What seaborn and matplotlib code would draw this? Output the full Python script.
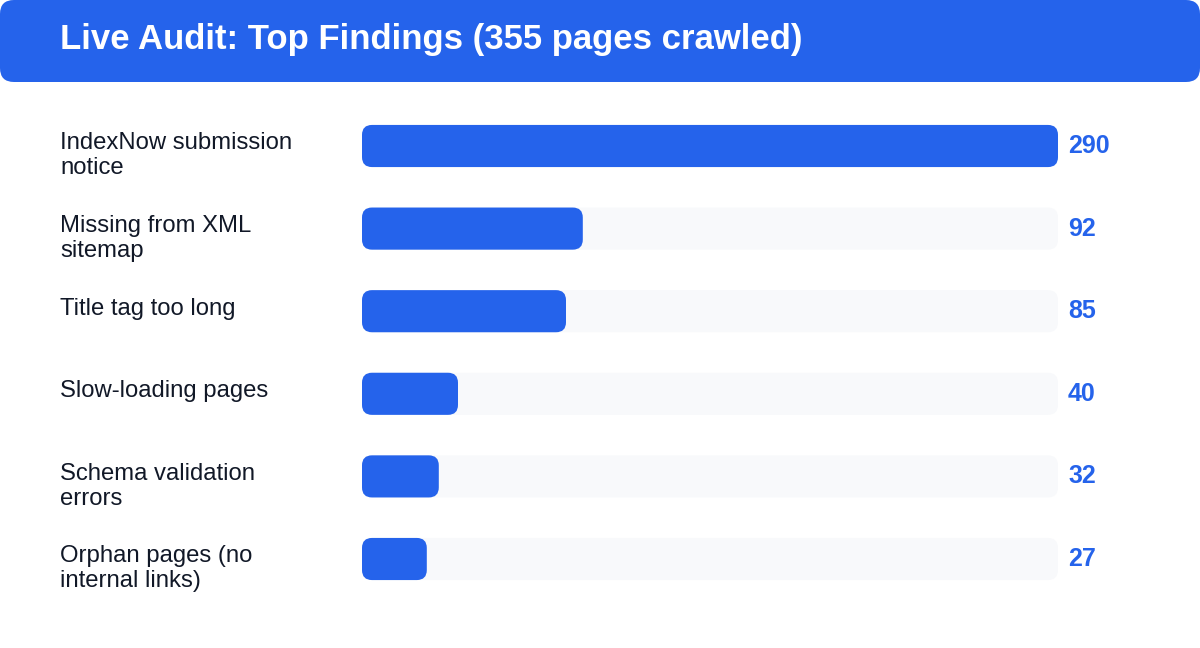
import textwrap
import matplotlib
matplotlib.use("Agg")
import matplotlib.pyplot as plt
from matplotlib.patches import FancyBboxPatch
from matplotlib import transforms
import seaborn as sns
import pandas as pd

categories = [
    "IndexNow submission notice",
    "Missing from XML sitemap",
    "Title tag too long",
    "Slow-loading pages",
    "Schema validation errors",
    "Orphan pages (no internal links)",
]
counts = [290, 92, 85, 40, 32, 27]
title = "Live Audit: Top Findings (355 pages crawled)"

BLUE = "#2563eb"
TRACK = "#f8f9fb"
TEXT = "#111827"

sns.set_theme(style="white")
plt.rcParams["font.family"] = ["Liberation Sans", "DejaVu Sans"]

W, H = 1200, 648
fig = plt.figure(figsize=(W / 100, H / 100), dpi=100)
fig.patch.set_facecolor("white")

# background axes in pixel coordinates for the header
bg = fig.add_axes([0, 0, 1, 1], zorder=0)
bg.set_xlim(0, W)
bg.set_ylim(H, 0)
bg.axis("off")
bg.add_patch(FancyBboxPatch((0, 0), W, 82, boxstyle="round,pad=0,rounding_size=14",
                            facecolor=BLUE, edgecolor="none"))
bg.text(60, 39, title, color="white", fontsize=25, fontweight="bold",
        va="center", ha="left")

# bar axes
x0, x1 = 362, 1058
row_top, row_step = 146, 82.6
n = len(categories)
ax_top = row_top - row_step / 2
ax_bottom = ax_top + n * row_step
ax = fig.add_axes([x0 / W, 1 - ax_bottom / H, (x1 - x0) / W, (n * row_step) / H], zorder=1)
ax.patch.set_alpha(0)

df = pd.DataFrame({"category": categories, "count": counts, "track": [max(counts)] * n})
bar_w = 0.51
sns.barplot(data=df, y="category", x="track", color=TRACK, width=bar_w, ax=ax,
            orient="h", saturation=1)
sns.barplot(data=df, y="category", x="count", color=BLUE, width=bar_w, ax=ax,
            orient="h", saturation=1)

ax.set_xlim(0, max(counts))
ax.set_ylim(n - 0.5, -0.5)

# replace rectangles with rounded ones
px_per_x = (x1 - x0) / max(counts)
px_per_y = row_step
r_px = 10
aspect = px_per_x / px_per_y
patches = list(ax.patches)
for p in patches:
    x, y = p.get_x(), p.get_y()
    w, h = p.get_width(), p.get_height()
    fc = p.get_facecolor()
    z = p.get_zorder()
    p.remove()
    ax.add_patch(FancyBboxPatch((x, y), w, h,
                                boxstyle=f"round,pad=0,rounding_size={r_px / px_per_x}",
                                mutation_aspect=aspect, facecolor=fc, edgecolor="none",
                                zorder=z))

ax.axis("off")

# labels and values
trans_lbl = transforms.blended_transform_factory(fig.transFigure, ax.transData)
for i, (cat, v) in enumerate(zip(categories, counts)):
    ax.text(60 / W, i - bar_w / 2 + 0.09, textwrap.fill(cat, 20), transform=trans_lbl,
            ha="left", va="top", fontsize=17.2, color=TEXT, linespacing=1.17,
            clip_on=False)
    ax.text(max(counts) + 10 / px_per_x, i, str(v), ha="left", va="center",
            fontsize=18, fontweight="bold", color=BLUE, clip_on=False)

fig.savefig("out.png", dpi=100, facecolor="white")
